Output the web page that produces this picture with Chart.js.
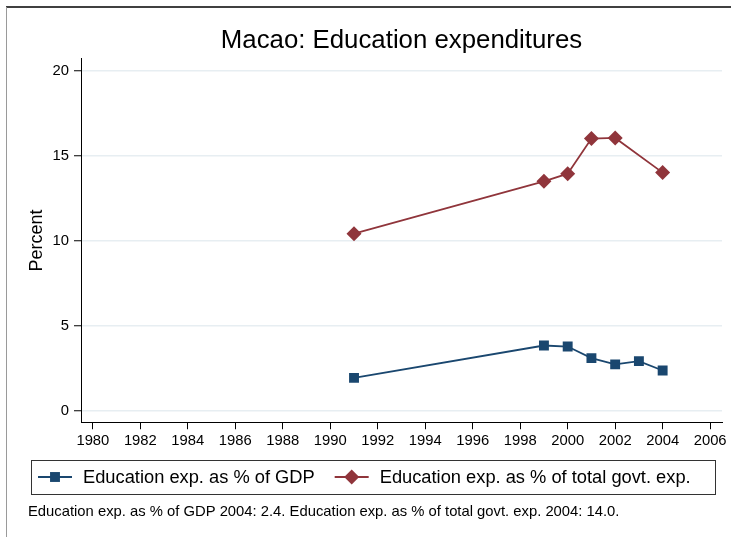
<!DOCTYPE html>
<html>
<head>
<meta charset="utf-8">
<script src="https://cdn.jsdelivr.net/npm/chart.js@4/dist/chart.umd.min.js"></script>
<style>
  html, body { margin: 0; padding: 0; background: #fff; }
  #wrap { width: 731px; height: 537px; }
</style>
</head>
<body>
<div id="wrap"><canvas id="eduChart" width="731" height="537"></canvas></div>
<script>
// data
const years = [1991, 1999, 2000, 2001, 2002, 2003, 2004];
const gdpShare = [1.96, 3.86, 3.80, 3.12, 2.75, 2.94, 2.39];
const govtShare = [10.43, 13.51, 13.96, 16.02, 16.06, null, 14.02];
const xTicks = [1980, 1982, 1984, 1986, 1988, 1990, 1992, 1994, 1996, 1998, 2000, 2002, 2004, 2006];
const yTicks = [0, 5, 10, 15, 20];

const FONT = "'Liberation Sans', Arial, sans-serif";
const navy = "#1a476f";
const maroon = "#90353b";

function toPoints(vals)
{
    return years.map((yr, i) => ({ x: yr, y: vals[i] }));
}

// outer frame (top + left edge like the stata export)
const framePlugin = {
    id: "frame",
    afterDraw(chart) {
        const c = chart.ctx;
        c.save();
        c.strokeStyle = "#000";
        c.lineWidth = 1.5;
        c.beginPath();
        c.moveTo(6, 7);
        c.lineTo(chart.width, 7);
        c.stroke();
        c.strokeStyle = "#9a9a9a";
        c.lineWidth = 1;
        c.beginPath();
        c.moveTo(6.5, 7);
        c.lineTo(6.5, chart.height);
        c.stroke();
        c.restore();
    }
};

// boxed legend with line + marker keys
const legendBox = {
    id: "legendBox",
    afterDraw(chart) {
        const c = chart.ctx;
        const top = 460, bottom = 494;
        const midY = (top + bottom) / 2;
        c.save();
        c.strokeStyle = "#333";
        c.lineWidth = 1;
        c.strokeRect(31.5, top + 0.5, 684, bottom - top);

        c.font = "18.3px " + FONT;
        c.textBaseline = "middle";
        c.textAlign = "left";
        let x = 38;
        chart.data.datasets.forEach(ds => {
            c.strokeStyle = ds.borderColor;
            c.lineWidth = 1.8;
            c.beginPath();
            c.moveTo(x, midY);
            c.lineTo(x + 34, midY);
            c.stroke();
            c.fillStyle = ds.pointBackgroundColor;
            Chart.helpers.drawPoint(c, { pointStyle: ds.pointStyle, radius: ds.pointRadius, borderWidth: 0, rotation: 0 }, x + 17, midY);
            c.fillStyle = "#000";
            c.fillText(ds.label, x + 45, midY + 1);
            x += 45 + c.measureText(ds.label).width + 20;
        });
        c.restore();
    }
};

const ctx = document.getElementById("eduChart").getContext("2d");
const eduChart = new Chart(ctx, {
    type: "line",
    data: {
        datasets: [{
            label: "Education exp. as % of GDP",
            data: toPoints(gdpShare),
            borderColor: navy,
            backgroundColor: navy,
            pointBackgroundColor: navy,
            pointBorderColor: navy,
            pointStyle: "rect",
            pointRadius: 7,
            pointBorderWidth: 0,
            borderWidth: 1.8,
            spanGaps: true
        }, {
            label: "Education exp. as % of total govt. exp.",
            data: toPoints(govtShare),
            borderColor: maroon,
            backgroundColor: maroon,
            pointBackgroundColor: maroon,
            pointBorderColor: maroon,
            pointStyle: "rectRot",
            pointRadius: 7.5,
            pointBorderWidth: 0,
            borderWidth: 1.8,
            spanGaps: true
        }]
    },
    options: {
        responsive: false,
        animation: false,
        layout: { padding: { top: 10, left: 28, right: 9, bottom: 11 } },
        plugins: {
            legend: { display: false },
            tooltip: { enabled: false },
            title: {
                display: true,
                text: "Macao: Education expenditures",
                fullSize: false,
                color: "#000",
                font: { family: FONT, size: 25.8, weight: "normal", lineHeight: 1.2 },
                padding: { top: 15, bottom: 3 }
            },
            subtitle: {
                display: true,
                position: "bottom",
                align: "start",
                text: "Education exp. as % of GDP 2004: 2.4. Education exp. as % of total govt. exp. 2004: 14.0.",
                color: "#000",
                font: { family: FONT, size: 14.8, weight: "normal", lineHeight: 1.2 },
                padding: { top: 43, bottom: 5 }
            }
        },
        scales: {
            x: {
                type: "linear",
                min: 1979.5,
                max: 2006.5,
                afterBuildTicks: s => { s.ticks = xTicks.map(v => ({ value: v })); },
                afterFit: s => { s.height = 38; },
                ticks: {
                    color: "#000",
                    padding: 4,
                    maxRotation: 0,
                    autoSkip: false,
                    font: { family: FONT, size: 14.8, lineHeight: 1.1 },
                    callback: v => String(v)
                },
                grid: { drawOnChartArea: false, tickLength: 7, tickColor: "#000", tickWidth: 1 },
                border: { color: "#000", width: 1 }
            },
            y: {
                min: -0.65,
                max: 20.7,
                afterBuildTicks: s => { s.ticks = yTicks.map(v => ({ value: v })); },
                afterFit: s => { s.width = 53; },
                title: {
                    display: true,
                    text: "Percent",
                    color: "#000",
                    padding: 0,
                    font: { family: FONT, size: 18, lineHeight: 1.0 }
                },
                ticks: {
                    color: "#000",
                    padding: 5,
                    font: { family: FONT, size: 14.8 }
                },
                grid: { color: "#e7eef2", lineWidth: 1.5, tickLength: 7, tickColor: "#000", tickWidth: 1 },
                border: { color: "#000", width: 1 }
            }
        }
    },
    plugins: [framePlugin, legendBox]
});
</script>
</body>
</html>
